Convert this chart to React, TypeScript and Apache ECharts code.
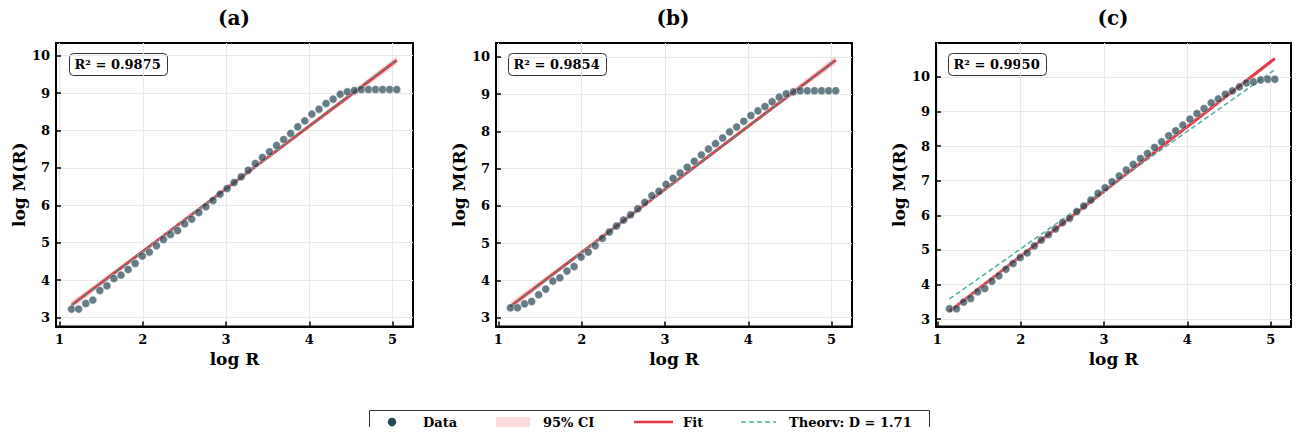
import React, { useEffect, useRef } from "react";
import * as echarts from "echarts";

const FONT = "'DejaVu Serif', serif";

const logR = [
  1.145, 1.23, 1.315, 1.4, 1.484, 1.569, 1.654, 1.739, 1.824, 1.909,
  1.994, 2.079, 2.164, 2.248, 2.333, 2.418, 2.503, 2.588, 2.673, 2.758,
  2.843, 2.928, 3.013, 3.097, 3.182, 3.267, 3.352, 3.437, 3.522, 3.607,
  3.692, 3.776, 3.861, 3.946, 4.031, 4.116, 4.201, 4.286, 4.371, 4.456,
  4.541, 4.625, 4.71, 4.795, 4.88, 4.965, 5.05,
];

const logM_a = [
  3.223, 3.223, 3.374, 3.463, 3.722, 3.847, 4.043, 4.132, 4.283, 4.444,
  4.64, 4.747, 4.916, 5.086, 5.219, 5.326, 5.504, 5.629, 5.807, 5.959,
  6.128, 6.298, 6.449, 6.61, 6.761, 6.939, 7.118, 7.278, 7.43, 7.599,
  7.759, 7.92, 8.098, 8.258, 8.437, 8.57, 8.721, 8.838, 8.971, 9.034,
  9.07, 9.096, 9.096, 9.096, 9.096, 9.096, 9.096,
];

const logM_b = [
  3.26, 3.26, 3.368, 3.43, 3.61, 3.762, 3.978, 4.067, 4.247, 4.372,
  4.623, 4.758, 4.928, 5.126, 5.296, 5.457, 5.619, 5.762, 5.924, 6.094,
  6.274, 6.39, 6.578, 6.74, 6.883, 7.036, 7.197, 7.368, 7.529, 7.673,
  7.825, 7.987, 8.121, 8.274, 8.426, 8.552, 8.67, 8.796, 8.922, 9.013,
  9.063, 9.094, 9.094, 9.094, 9.094, 9.094, 9.094,
];

const logM_c = [
  3.298, 3.298, 3.49, 3.596, 3.788, 3.885, 4.096, 4.25, 4.442, 4.606,
  4.779, 4.913, 5.115, 5.288, 5.442, 5.606, 5.788, 5.913, 6.106, 6.269,
  6.442, 6.635, 6.798, 6.971, 7.135, 7.308, 7.471, 7.644, 7.788, 7.962,
  8.125, 8.298, 8.442, 8.606, 8.779, 8.942, 9.087, 9.25, 9.365, 9.5,
  9.596, 9.712, 9.827, 9.856, 9.913, 9.933, 9.933,
];

const lineX = [1.145, 5.05];
const fit_a = [3.33, 9.88];
const fit_b = [3.3, 9.915];
const fit_c = [3.22, 10.53];
const theory_a = [3.32, 9.9];
const theory_b = [3.29, 9.92];
const theory_c = [3.58, 10.21];

const ciX = [1.145, 2.1, 3.1, 4.1, 5.05];
const ciUp_a = [3.45, 4.97, 6.63, 8.33, 10.0];
const ciLo_a = [3.21, 4.89, 6.58, 8.23, 9.76];
const ciUp_b = [3.42, 4.96, 6.64, 8.36, 10.04];
const ciLo_b = [3.18, 4.88, 6.59, 8.26, 9.8];
const ciUp_c = [3.28, 5.03, 6.895, 8.78, 10.59];
const ciLo_c = [3.16, 4.985, 6.865, 8.725, 10.47];

const r2Labels = ["R² = 0.9875", "R² = 0.9854", "R² = 0.9950"];
const panelTitles = ["(a)", "(b)", "(c)"];
const xTicks = [1, 2, 3, 4, 5];
const yTicks = [3, 4, 5, 6, 7, 8, 9, 10];
const legendLabels = ["Data", "95% CI", "Fit", "Theory: D = 1.71"];

const DATA_COLOR = "#264653";
const FIT_COLOR = "#e63946";
const THEORY_COLOR = "#2a9d8f";
const CI_FILL = "rgba(230,57,70,0.18)";

export default function App() {
  const ref = useRef<HTMLDivElement>(null);

  useEffect(() => {
    if (!ref.current) return;
    const chart = echarts.init(ref.current, undefined, { renderer: "svg" });

    const grids = [
      { left: 56, width: 357, xmin: 0.958, xmax: 5.245, ymin: 2.758, ymax: 10.34 },
      { left: 496, width: 356, xmin: 0.972, xmax: 5.245, ymin: 2.758, ymax: 10.376 },
      { left: 936, width: 355, xmin: 0.984, xmax: 5.244, ymin: 2.786, ymax: 10.98 },
    ];
    const datasets = [logM_a, logM_b, logM_c];
    const fits = [fit_a, fit_b, fit_c];
    const theories = [theory_a, theory_b, theory_c];
    const ciUps = [ciUp_a, ciUp_b, ciUp_c];
    const ciLos = [ciLo_a, ciLo_b, ciLo_c];
    const r2Left = [69, 508, 948];
    const titleX = [234, 673, 1113];

    const boldText = { fontFamily: FONT, fontWeight: "bold" as const, color: "#000" };

    const series: any[] = [];
    grids.forEach((g, i) => {
      const up = ciUps[i];
      const lo = ciLos[i];
      series.push({
        type: "custom",
        name: "95% CI",
        xAxisIndex: i,
        yAxisIndex: i,
        z: 1,
        silent: true,
        itemStyle: { color: CI_FILL },
        data: ciX.map((x, k) => [x, lo[k], up[k]]),
        encode: { x: 0, y: [1, 2] },
        renderItem: (params: any, api: any) => {
          if (params.dataIndex !== 0) return { type: "group", children: [] };
          const top = ciX.map((x, k) => api.coord([x, up[k]]));
          const bot = ciX.map((x, k) => api.coord([x, lo[k]])).reverse();
          return {
            type: "polygon",
            shape: { points: [...top, ...bot] },
            style: { fill: CI_FILL },
          };
        },
      });
      series.push({
        type: "line",
        name: "Fit",
        xAxisIndex: i,
        yAxisIndex: i,
        z: 3,
        symbol: "none",
        lineStyle: { color: FIT_COLOR, width: 3 },
        itemStyle: { color: FIT_COLOR },
        data: lineX.map((x, k) => [x, fits[i][k]]),
      });
      series.push({
        type: "line",
        name: "Theory: D = 1.71",
        xAxisIndex: i,
        yAxisIndex: i,
        z: 4,
        symbol: "none",
        lineStyle: { color: THEORY_COLOR, width: 1.6, type: [5, 3], opacity: 0.8 },
        itemStyle: { color: THEORY_COLOR },
        data: lineX.map((x, k) => [x, theories[i][k]]),
      });
      series.push({
        type: "scatter",
        name: "Data",
        xAxisIndex: i,
        yAxisIndex: i,
        z: 5,
        symbolSize: 8,
        itemStyle: { color: DATA_COLOR, opacity: 0.7, borderColor: "#ffffff", borderWidth: 0.6 },
        data: logR.map((x, k) => [x, datasets[i][k]]),
      });
    });

    const legendText = (text: string, x: number) => ({
      type: "text",
      x,
      y: 422,
      style: {
        text,
        fontFamily: FONT,
        fontWeight: "bold",
        fontSize: 13,
        fill: "#000",
        verticalAlign: "middle",
        align: "left",
      },
    });

    const legendGraphic = {
      type: "group",
      z: 100,
      children: [
        {
          type: "rect",
          shape: { x: 369.5, y: 410.5, width: 560, height: 30 },
          style: { fill: "#fff", stroke: "#333", lineWidth: 1 },
        },
        { type: "circle", shape: { cx: 392, cy: 422, r: 4.2 }, style: { fill: DATA_COLOR } },
        legendText(legendLabels[0], 423),
        { type: "rect", shape: { x: 496, y: 417, width: 34, height: 10 }, style: { fill: CI_FILL } },
        legendText(legendLabels[1], 543),
        {
          type: "line",
          shape: { x1: 634, y1: 422, x2: 673, y2: 422 },
          style: { stroke: FIT_COLOR, lineWidth: 2.5 },
        },
        legendText(legendLabels[2], 683),
        {
          type: "line",
          shape: { x1: 741, y1: 422, x2: 776, y2: 422 },
          style: { stroke: THEORY_COLOR, lineWidth: 1.6, lineDash: [5, 3], opacity: 0.85 },
        },
        legendText(legendLabels[3], 789),
      ],
    };

    const titleGraphics = panelTitles.map((t, i) => ({
      type: "text",
      x: titleX[i],
      y: 18,
      z: 100,
      style: {
        text: t,
        fontFamily: FONT,
        fontWeight: "bold",
        fontSize: 20,
        fill: "#000",
        align: "center",
        verticalAlign: "middle",
      },
    }));

    const option: any = {
      animation: false,
      backgroundColor: "#fff",
      grid: grids.map((g) => ({
        left: g.left,
        width: g.width,
        top: 43,
        height: 283.5,
        show: true,
        borderColor: "#000",
        borderWidth: 2,
        backgroundColor: "transparent",
      })),
      xAxis: grids.map((g, i) => ({
        type: "value",
        gridIndex: i,
        min: g.xmin,
        max: g.xmax,
        name: "log R",
        nameLocation: "middle",
        nameGap: 22,
        nameTextStyle: { ...boldText, fontSize: 17 },
        axisLine: { show: true, lineStyle: { color: "#000", width: 2 } },
        axisTick: { show: true, inside: true, length: 5, customValues: xTicks, lineStyle: { color: "#000", width: 1.5 } },
        axisLabel: { ...boldText, fontSize: 13, margin: 6, customValues: xTicks },
        splitLine: { show: true, lineStyle: { color: "#e8e8e8", width: 1 } },
      })),
      yAxis: grids.map((g, i) => ({
        type: "value",
        gridIndex: i,
        min: g.ymin,
        max: g.ymax,
        name: "log M(R)",
        nameLocation: "middle",
        nameGap: 29,
        nameTextStyle: { ...boldText, fontSize: 17 },
        axisLine: { show: true, lineStyle: { color: "#000", width: 2 } },
        axisTick: { show: true, inside: true, length: 5, customValues: yTicks, lineStyle: { color: "#000", width: 1.5 } },
        axisLabel: { ...boldText, fontSize: 13, margin: 6, customValues: yTicks },
        splitLine: { show: true, lineStyle: { color: "#e8e8e8", width: 1 } },
      })),
      graphic: [
        ...titleGraphics,
        ...r2Labels.map((t, i) => ({
          type: "group",
          left: r2Left[i],
          top: 53,
          z: 100,
          children: [
            {
              type: "rect",
              shape: { x: 0, y: 0, width: 98, height: 22, r: 4 },
              style: { fill: "#fff", stroke: "#333", lineWidth: 1 },
            },
            {
              type: "text",
              x: 5,
              y: 11,
              style: {
                text: t,
                fontFamily: FONT,
                fontWeight: "bold",
                fontSize: 13,
                fill: "#000",
                verticalAlign: "middle",
                align: "left",
              },
            },
          ],
        })),
        legendGraphic,
      ],
      series,
    };

    chart.setOption(option);
    return () => chart.dispose();
  }, []);

  return <div ref={ref} style={{ width: 1304, height: 435, margin: -8 }} />;
}
